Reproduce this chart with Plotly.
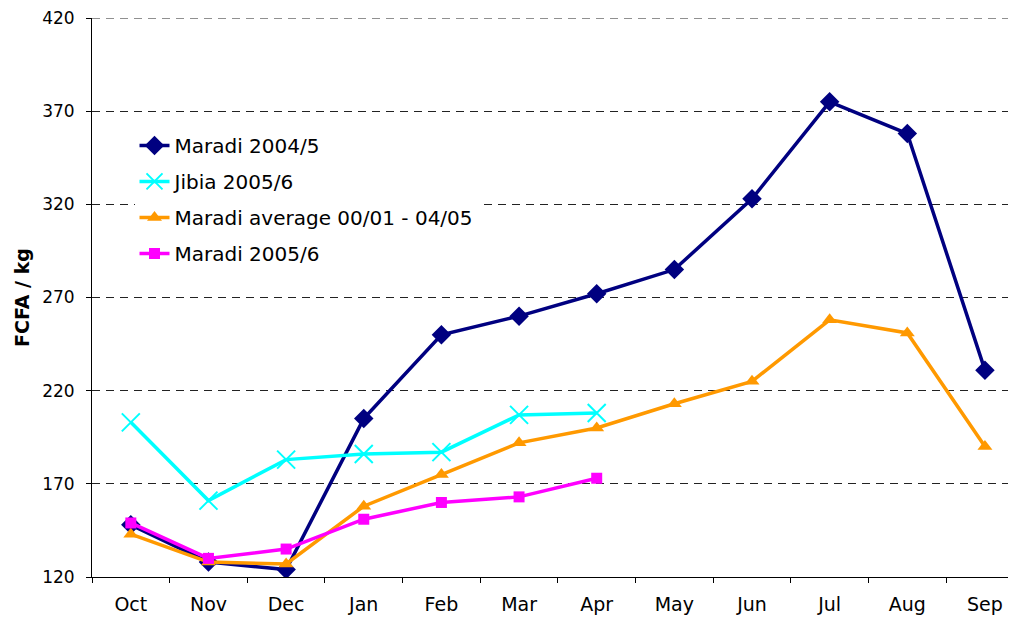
import plotly.graph_objects as go

months = ["Oct", "Nov", "Dec", "Jan", "Feb", "Mar", "Apr", "May", "Jun", "Jul", "Aug", "Sep"]

maradi_2004_5 = [148, 128, 124, 205, 250, 260, 272, 285, 323, 375, 358, 231]
jibia_2005_6 = [203, 161, 183, 186, 187, 207, 208]
maradi_avg = [143, 128, 127, 158, 175, 192, 200, 213, 225, 258, 251, 190]
maradi_2005_6 = [149, 130, 135, 151, 160, 163, 173]

y_ticks = [120, 170, 220, 270, 320, 370, 420]

series = [
    ("Maradi 2004/5", maradi_2004_5, "#000080", "diamond", 15),
    ("Jibia 2005/6", jibia_2005_6, "#00FFFF", "x-thin", 18),
    ("Maradi average 00/01 - 04/05", maradi_avg, "#FF9900", "triangle-up", 13),
    ("Maradi 2005/6", maradi_2005_6, "#FF00FF", "square", 11),
]

fig = go.Figure()
for i, (name, vals, col, sym, sz) in enumerate(series):
    fig.add_trace(go.Scatter(
        x=months[:len(vals)], y=vals, name=name, mode="lines+markers",
        legendgroup=f"g{i}",
        line=dict(color=col, width=3.5),
        marker=dict(symbol=sym, size=sz, color=col,
                    line=dict(color=col, width=2 if sym == "x-thin" else 0)),
    ))

# top gridline (plotly drops gridlines sitting on the plot edge)
fig.add_shape(type="line", xref="paper", yref="y", x0=0, x1=1,
              y0=y_ticks[-1], y1=y_ticks[-1], layer="below",
              line=dict(color="#222222", width=1, dash="8px,6px"))

fig.update_layout(
    width=1008, height=611,
    margin=dict(l=84, r=0, t=10, b=42),
    paper_bgcolor="white", plot_bgcolor="white",
    font=dict(family="DejaVu Sans", size=18, color="black"),
    showlegend=True,
    legend=dict(x=0.046, y=0.807, xanchor="left", yanchor="top",
                bgcolor="white", borderwidth=0, tracegroupgap=7,
                font=dict(family="DejaVu Sans", size=20, color="black")),
    xaxis=dict(
        categoryorder="array", categoryarray=months,
        range=[-0.5, 11.4], tickson="boundaries",
        ticks="outside", ticklen=5, tickcolor="black",
        ticklabelstandoff=10,
        showline=True, linecolor="black", linewidth=1,
        showgrid=False, zeroline=False,
        tickfont=dict(family="DejaVu Sans", size=19, color="black"),
    ),
    yaxis=dict(
        range=[y_ticks[0], y_ticks[-1]], tickvals=y_ticks,
        ticks="outside", ticklen=5, tickcolor="black",
        ticklabelstandoff=8, ticklabeloverflow="allow",
        showline=True, linecolor="black", linewidth=1,
        showgrid=True, gridcolor="#222222", gridwidth=1, griddash="8px,6px",
        zeroline=False,
        tickfont=dict(family="DejaVu Sans", size=17, color="black"),
        title=dict(text="<b>FCFA / kg</b>", standoff=7,
                   font=dict(family="DejaVu Sans", size=19, color="black")),
    ),
)

fig.write_html("out.html")
